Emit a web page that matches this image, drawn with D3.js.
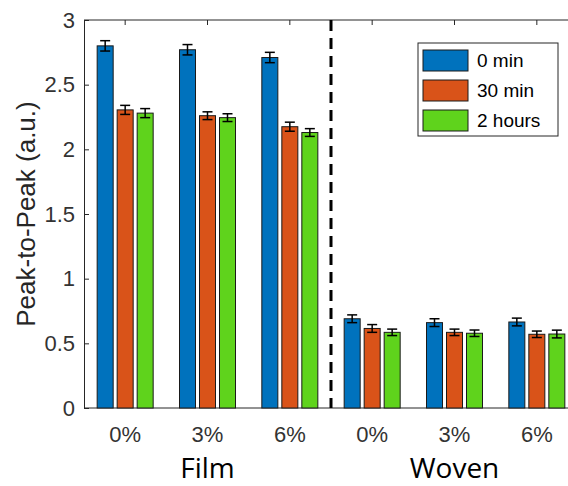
<!DOCTYPE html>
<html>
<head>
<meta charset="utf-8">
<script src="https://d3js.org/d3.v7.min.js"></script>
<style>
  body { margin: 0; background: #fff; }
  text { font-family: "Liberation Sans", Arial, sans-serif; }
</style>
</head>
<body>
<script>
// data
var categories = ["0%", "3%", "6%", "0%", "3%", "6%"];
var groups = ["Film", "Woven"];
var seriesNames = ["0 min", "30 min", "2 hours"];
var min0 = [2.80, 2.77, 2.71, 0.69, 0.66, 0.665];
var min30 = [2.305, 2.26, 2.175, 0.615, 0.585, 0.57];
var hours2 = [2.28, 2.245, 2.13, 0.585, 0.578, 0.572];
var err0 = [0.04, 0.04, 0.04, 0.03, 0.03, 0.03];
var err30 = [0.035, 0.03, 0.035, 0.03, 0.025, 0.025];
var err2h = [0.035, 0.03, 0.03, 0.025, 0.025, 0.03];
var yTicks = [0, 0.5, 1, 1.5, 2, 2.5, 3];
var colors = ["#0072BD", "#D95319", "#5FD31C"];

var W = 568, H = 486;
var mLeft = 84, mTop = 20, plotW = 494, mBottom = 408;

var svg = d3.select("body").append("svg")
    .attr("width", W).attr("height", H);

var x = d3.scaleBand().domain(d3.range(categories.length))
    .range([mLeft, mLeft + plotW]);
var xs = d3.scaleBand().domain(d3.range(3)).range([-28, 28]).paddingInner(0.2);
var y = d3.scaleLinear().domain([0, 3]).range([mBottom, mTop]);

var series = [min0, min30, hours2];
var errs = [err0, err30, err2h];

// axes box
svg.append("line").attr("x1", mLeft).attr("x2", W).attr("y1", y(0)).attr("y2", y(0))
    .attr("stroke", "#262626");
svg.append("line").attr("x1", mLeft).attr("x2", W).attr("y1", y(3)).attr("y2", y(3))
    .attr("stroke", "#262626");

var yAxis = d3.axisLeft(y).tickValues(yTicks).tickSize(0).tickPadding(9)
    .tickFormat(d3.format("~g"));
var ya = svg.append("g").attr("transform", "translate(" + mLeft + ",0)").call(yAxis);
ya.select(".domain").attr("stroke", "#262626");
ya.selectAll("text").attr("font-size", 22).attr("fill", "#333")
    .style("font-family", "'Liberation Sans', Arial, sans-serif");
ya.selectAll(".tick").append("line").attr("x1", 0).attr("x2", 5).attr("stroke", "#262626");

var xAxis = d3.axisBottom(x).tickFormat(function(i) { return categories[i]; })
    .tickSize(0).tickPadding(18);
var xa = svg.append("g").attr("transform", "translate(0," + mBottom + ")").call(xAxis);
xa.select(".domain").remove();
xa.selectAll("text").attr("font-size", 22).attr("fill", "#333")
    .style("font-family", "'Liberation Sans', Arial, sans-serif");
// top inner ticks
svg.selectAll(".ttick").data(d3.range(categories.length)).enter().append("line")
    .attr("x1", function(i) { return x(i) + x.bandwidth() / 2; })
    .attr("x2", function(i) { return x(i) + x.bandwidth() / 2; })
    .attr("y1", y(3)).attr("y2", y(3) + 5).attr("stroke", "#262626");

// bars
series.forEach(function(vals, s) {
  var g = svg.append("g");
  g.selectAll("rect").data(vals).enter().append("rect")
    .attr("x", function(d, i) { return x(i) + x.bandwidth() / 2 + xs(s); })
    .attr("width", xs.bandwidth())
    .attr("y", function(d) { return y(d); })
    .attr("height", function(d) { return y(0) - y(d); })
    .attr("fill", colors[s]).attr("stroke", "#1a1a1a").attr("stroke-width", 1);
  vals.forEach(function(d, i) {
    var cx = x(i) + x.bandwidth() / 2 + xs(s) + xs.bandwidth() / 2;
    var e = errs[s][i];
    g.append("line").attr("x1", cx).attr("x2", cx).attr("y1", y(d - e)).attr("y2", y(d + e))
      .attr("stroke", "#000").attr("stroke-width", 1.5);
    [d - e, d + e].forEach(function(v) {
      g.append("line").attr("x1", cx - 5).attr("x2", cx + 5).attr("y1", y(v)).attr("y2", y(v))
        .attr("stroke", "#000").attr("stroke-width", 1.5);
    });
  });
});

// dashed divider
var xd = x(3);
svg.append("line").attr("x1", xd).attr("x2", xd).attr("y1", y(3)).attr("y2", y(0))
  .attr("stroke", "#000").attr("stroke-width", 3).attr("stroke-dasharray", "11,7");

// y label
svg.append("text").attr("transform", "translate(35," + y(1.5) + ") rotate(-90)")
  .attr("text-anchor", "middle").attr("font-size", 26).attr("fill", "#262626")
  .text("Peak-to-Peak (a.u.)");

// group labels
groups.forEach(function(gname, k) {
  svg.append("text").attr("x", x(1 + 3 * k) + x.bandwidth() / 2).attr("y", 478)
    .attr("text-anchor", "middle").attr("font-size", 28).attr("fill", "#000")
    .style("font-family", "'Open Sans', sans-serif").text(gname);
});

// legend
var lg = svg.append("g").attr("transform", "translate(418,43)");
lg.append("rect").attr("width", 140).attr("height", 93).attr("fill", "#fff")
  .attr("stroke", "#262626");
seriesNames.forEach(function(n, s) {
  lg.append("rect").attr("x", 5).attr("y", 7 + s * 30).attr("width", 45).attr("height", 21)
    .attr("fill", colors[s]).attr("stroke", "#1a1a1a");
  lg.append("text").attr("x", 59).attr("y", 24 + s * 30).attr("font-size", 19)
    .attr("fill", "#000").text(n);
});
</script>
</body>
</html>
